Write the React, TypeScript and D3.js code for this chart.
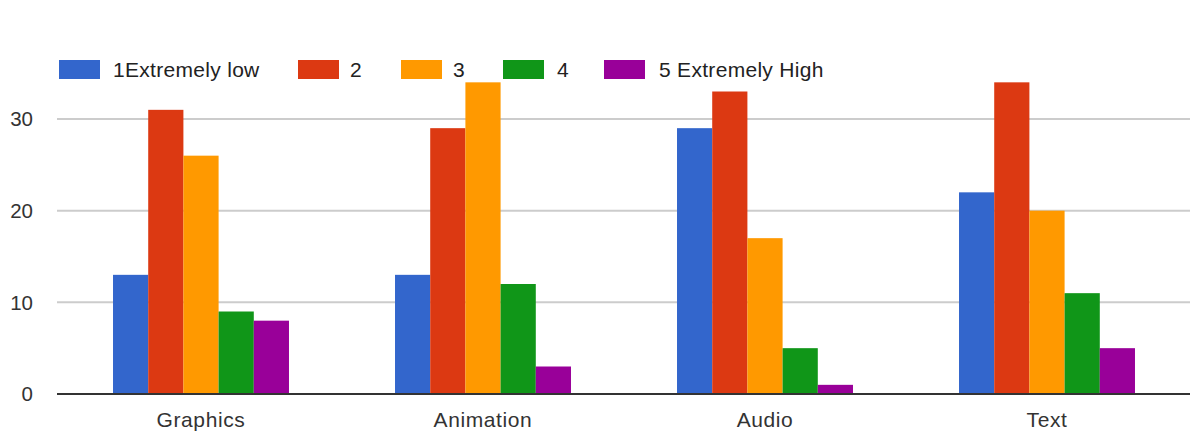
import React from "react";
import * as d3 from "d3";

const categories = ["Graphics", "Animation", "Audio", "Text"];
const seriesNames = ["1Extremely low", "2", "3", "4", "5 Extremely High"];
const seriesColors = ["#3366cc", "#dc3912", "#ff9900", "#109618", "#990099"];
const extremelyLow = [13, 13, 29, 22];
const two = [31, 29, 33, 34];
const three = [26, 34, 17, 20];
const four = [9, 12, 5, 11];
const extremelyHigh = [8, 3, 1, 5];
const seriesValues = [extremelyLow, two, three, four, extremelyHigh];
const yTicks = [0, 10, 20, 30];

// legend layout: swatch left edge and label left edge per entry
const legendSwatchX = [59, 298, 401, 503, 604];
const legendLabelX = [113, 350, 453, 557, 659];

const W = 1192;
const H = 437;
const FONT = "'Liberation Sans', Arial, sans-serif";

export default function App() {
  const x0 = d3
    .scaleBand<string>()
    .domain(categories)
    .range([60, 1188])
    .paddingInner(0.376)
    .paddingOuter(0.188);
  const x1 = d3
    .scaleBand<number>()
    .domain(d3.range(seriesNames.length))
    .range([0, x0.bandwidth()]);
  const y = d3.scaleLinear().domain([0, 30]).range([394, 119]);

  return (
    <svg
      width={W}
      height={H}
      style={{ position: "absolute", left: 0, top: 0, background: "#fff" }}
      fontFamily={FONT}
    >
      <rect width={W} height={H} fill="#fff" />
      {yTicks.slice(1).map((t) => (
        <line key={t} x1={57} x2={1190} y1={y(t)} y2={y(t)} stroke="#cccccc" strokeWidth={2} />
      ))}
      {yTicks.map((t) => (
        <text key={t} x={33} y={y(t)} dy="0.36em" textAnchor="end" fontSize={20.5} fill="#333">
          {t}
        </text>
      ))}
      {categories.map((c, ci) => (
        <g key={c} transform={`translate(${x0(c)},0)`}>
          {seriesValues.map((vals, si) => (
            <rect
              key={si}
              x={x1(si)}
              y={y(vals[ci])}
              width={x1.bandwidth()}
              height={y(0) - y(vals[ci])}
              fill={seriesColors[si]}
            />
          ))}
          <text
            x={x0.bandwidth() / 2}
            y={427}
            textAnchor="middle"
            fontSize={21}
            letterSpacing={0.6}
            fill="#333"
          >
            {c}
          </text>
        </g>
      ))}
      <line x1={57} x2={1190} y1={y(0)} y2={y(0)} stroke="#333" strokeWidth={2} />
      {seriesNames.map((n, i) => (
        <g key={n}>
          <rect x={legendSwatchX[i]} y={60} width={41} height={19} fill={seriesColors[i]} />
          <text x={legendLabelX[i]} y={77} fontSize={21} letterSpacing={0.3} fill="#222">
            {n}
          </text>
        </g>
      ))}
    </svg>
  );
}
